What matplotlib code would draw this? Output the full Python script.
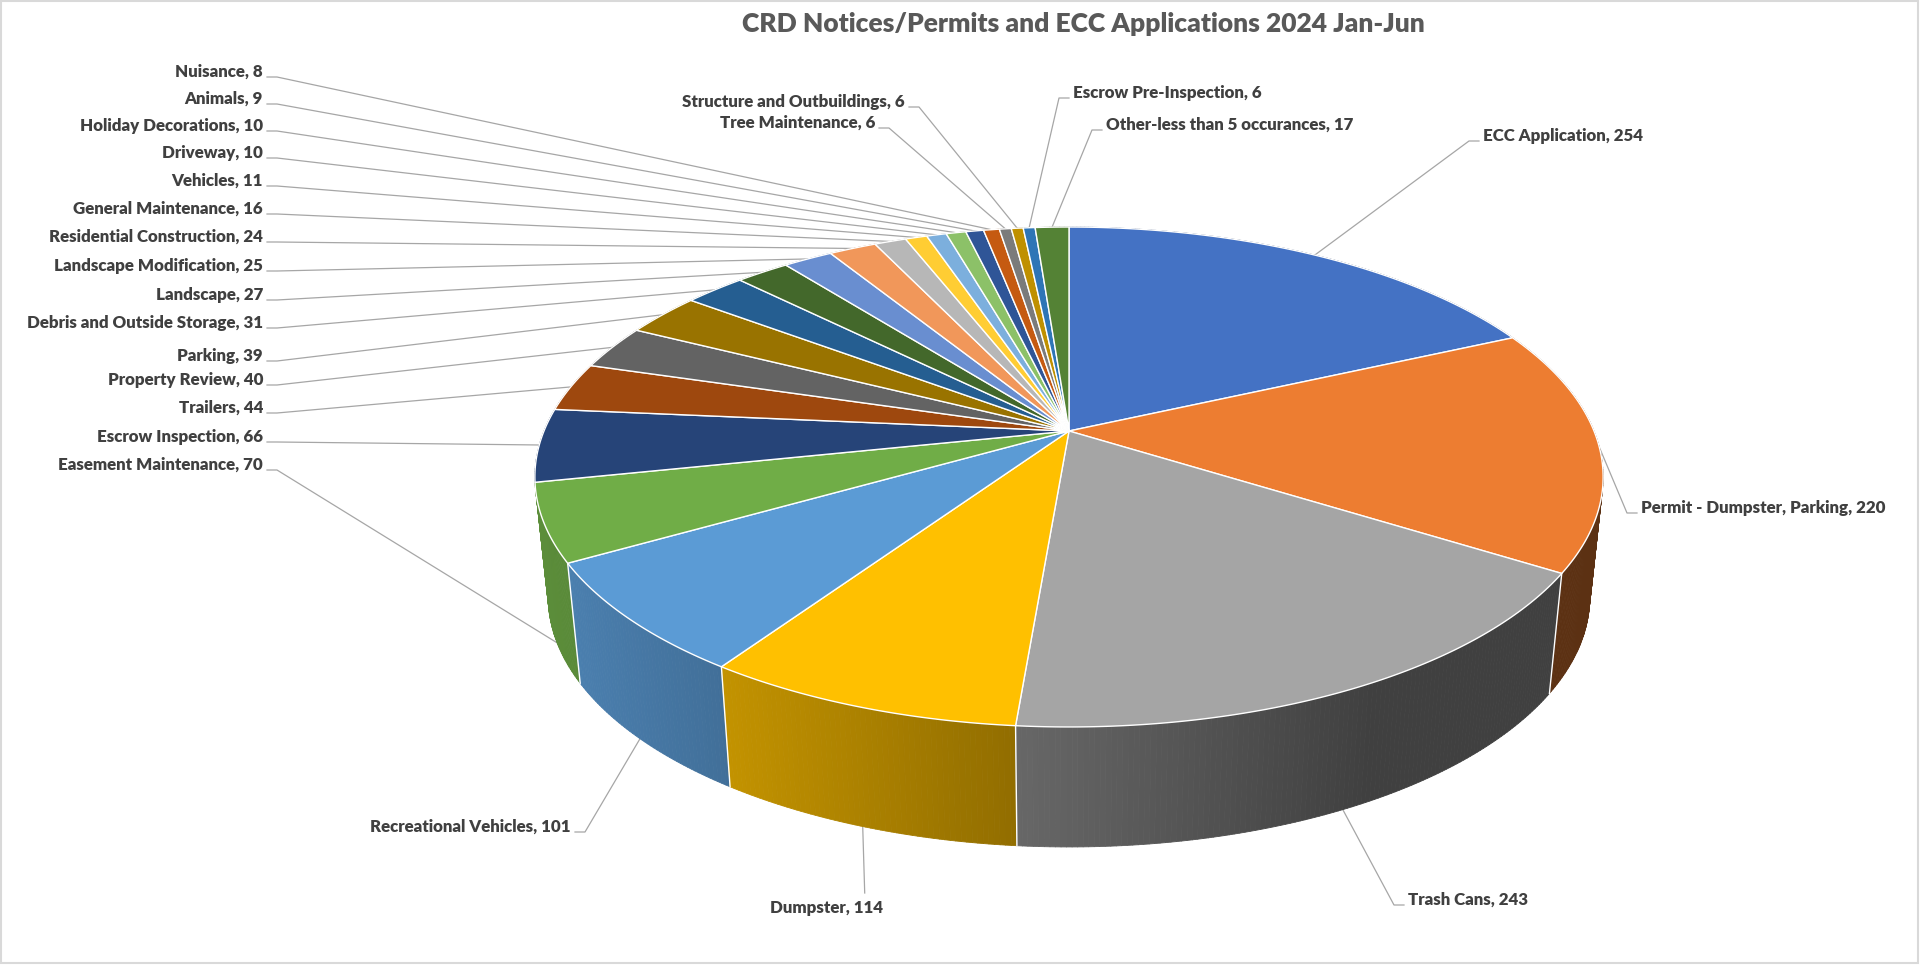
import numpy as np
import matplotlib.pyplot as plt
from matplotlib.patches import Polygon, Rectangle
from matplotlib.collections import PolyCollection
from matplotlib.colors import to_rgb

plt.rcParams['font.family'] = ['Lato', 'DejaVu Sans']

# data, clockwise from 12 o'clock
categories = ['ECC Application', 'Permit - Dumpster, Parking', 'Trash Cans', 'Dumpster',
              'Recreational Vehicles', 'Easement Maintenance', 'Escrow Inspection', 'Trailers',
              'Property Review', 'Parking', 'Debris and Outside Storage', 'Landscape',
              'Landscape Modification', 'Residential Construction', 'General Maintenance',
              'Vehicles', 'Driveway', 'Holiday Decorations', 'Animals', 'Nuisance',
              'Tree Maintenance', 'Structure and Outbuildings', 'Escrow Pre-Inspection',
              'Other-less than 5 occurances']
counts = [254, 220, 243, 114, 101, 70, 66, 44, 40, 39, 31, 27, 25, 24, 16, 11, 10, 10, 9, 8,
          6, 6, 6, 17]
colors = ['#4472C4', '#ED7D31', '#A5A5A5', '#FFC000', '#5B9BD5', '#70AD47',
          '#264478', '#9E480E', '#636363', '#997300', '#255E91', '#43682B',
          '#698ED0', '#F1975A', '#B7B7B7', '#FFCD33', '#7CAFDD', '#8CC168',
          '#2F5597', '#C55A11', '#7B7B7B', '#BF9000', '#2E75B6', '#548235']
title = 'CRD Notices/Permits and ECC Applications 2024 Jan-Jun'

# pie geometry in pixel space (perspective tilt)
CX, CY = 1069, 431
A, B, K = 525, 241.5, -0.184
H, SHRINK = 120, 0.975


def project(phi_deg):
    t = np.radians(phi_deg)
    u, v = np.sin(t), -np.cos(t)
    d = 1 + K * v
    return CX + A * u / d, CY + B * v / d, v


def bottom(x, y):
    return CX + SHRINK * (x - CX), y + H


# label layout: (x, y, alignment)
left_names = ['Nuisance', 'Animals', 'Holiday Decorations', 'Driveway', 'Vehicles',
              'General Maintenance', 'Residential Construction', 'Landscape Modification',
              'Landscape', 'Debris and Outside Storage', 'Parking', 'Property Review',
              'Trailers', 'Escrow Inspection', 'Easement Maintenance']
left_y = [72, 99, 126, 153, 181, 209, 237, 266, 295, 323, 356, 380, 408, 437, 465]
label_pos = {n: (263, y, 'right') for n, y in zip(left_names, left_y)}
label_pos.update({
    'Structure and Outbuildings': (905, 102, 'right'),
    'Tree Maintenance': (875, 123, 'right'),
    'Escrow Pre-Inspection': (1073, 93, 'left'),
    'Other-less than 5 occurances': (1106, 125, 'left'),
    'ECC Application': (1483, 136, 'left'),
    'Permit - Dumpster, Parking': (1641, 508, 'left'),
    'Trash Cans': (1408, 900, 'left'),
    'Dumpster': (827, 908, 'center'),
    'Recreational Vehicles': (571, 827, 'right'),
})

fig = plt.figure(figsize=(19.2, 9.65), dpi=100)
ax = fig.add_axes([0, 0, 1, 1])
ax.set_xlim(0, 1920)
ax.set_ylim(965, 0)
ax.axis('off')
ax.add_patch(Rectangle((1, 1), 1917, 962, fill=False, edgecolor='#d9d9d9', lw=1.5))

total = sum(counts)
edges = np.concatenate([[0], np.cumsum(counts)]) / total * 360

# side walls, each with its own left-to-right darkening
segs, segcols, depth = [], [], []
for i, c in enumerate(colors):
    ts = np.linspace(edges[i], edges[i + 1], max(3, int((edges[i + 1] - edges[i]) * 2)))
    base = np.array(to_rgb(c))
    xs_, ys_, vs_ = project(ts)
    us = (xs_ - CX) / A
    vis = vs_ > 0.15
    u_left = us[vis].min() if vis.any() else us.min()
    f_left = np.clip(0.6 - 0.25 * u_left, 0.39, 0.82)
    for j in range(len(ts) - 1):
        x0, y0, x1, y1 = xs_[j], ys_[j], xs_[j + 1], ys_[j + 1]
        bx0, by0 = bottom(x0, y0)
        bx1, by1 = bottom(x1, y1)
        um = (us[j] + us[j + 1]) / 2
        f = np.clip(f_left - 0.35 * (um - u_left), 0.39, 0.82)
        segs.append([(x0, y0), (x1, y1), (bx1, by1), (bx0, by0)])
        segcols.append(base * f)
        depth.append((vs_[j] + vs_[j + 1]) / 2)
order = np.argsort(depth)
ax.add_collection(PolyCollection([segs[j] for j in order],
                                 facecolors=[segcols[j] for j in order],
                                 edgecolors=[segcols[j] for j in order],
                                 linewidths=0.6, zorder=2))

# white seams on the walls
for e in edges:
    x, y, v = project(e)
    if v > 0.21:
        bx, by = bottom(x, y)
        ax.plot([x, bx], [y, by], color='white', lw=1.0, zorder=2.5)

# top face
for i, c in enumerate(colors):
    ts = np.linspace(edges[i], edges[i + 1], max(4, int((edges[i + 1] - edges[i]) * 3)))
    px_, py_, _ = project(ts)
    pts = [(CX, CY)] + list(zip(px_, py_))
    ax.add_patch(Polygon(pts, closed=True, facecolor=c, edgecolor='white', lw=1.0, zorder=3))

# labels and leader lines
for i, name in enumerate(categories):
    x, y, ha = label_pos[name]
    mid = (edges[i] + edges[i + 1]) / 2
    px, py, v = project(mid)
    if v > 0.2:
        px, py = bottom(px, py)
    if ha == 'right':
        path = [(x + 4, y + 5), (x + 14, y + 5), (px, py)]
    elif ha == 'left':
        path = [(x - 4, y + 5), (x - 14, y + 5), (px, py)]
    else:
        path = [(px + 2, y - 15), (px, py)]
    lx, ly = zip(*path)
    ax.plot(lx, ly, color='#a6a6a6', lw=0.9, zorder=1)
    ax.text(x, y, f'{name}, {counts[i]}', ha=ha, va='center', fontsize=12.2,
            fontweight='heavy', color='#404040', zorder=5)

ax.text(1083, 24, title, ha='center', va='center', fontsize=19, fontweight='heavy',
        color='#595959')

fig.savefig('out.png', dpi=100, facecolor='white')
